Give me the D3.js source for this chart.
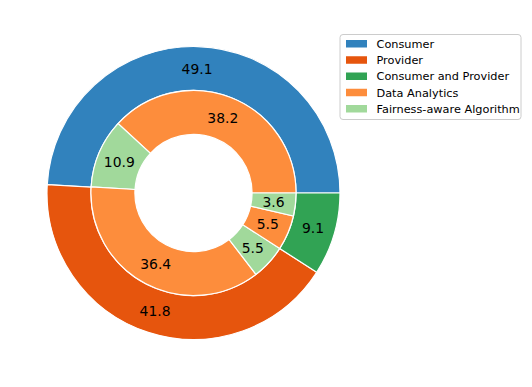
<!DOCTYPE html>
<html>
<head>
<meta charset="utf-8">
<script src="https://d3js.org/d3.v7.min.js"></script>
<style>
  body { margin: 0; background: #fff; }
  text { font-family: "DejaVu Sans", sans-serif; }
</style>
</head>
<body>
<svg id="chart" width="532" height="387"></svg>
<script>
// data
var outerLabels = ["Consumer", "Provider", "Consumer and Provider"];
var outerValues = [49.1, 41.8, 9.1];
var innerLabels = ["Data Analytics", "Fairness-aware Algorithm", "Data Analytics",
                   "Fairness-aware Algorithm", "Data Analytics", "Fairness-aware Algorithm"];
var innerValues = [38.2, 10.9, 36.4, 5.5, 5.5, 3.6];
var legendLabels = ["Consumer", "Provider", "Consumer and Provider", "Data Analytics", "Fairness-aware Algorithm"];
var legendColors = ["#3182bd", "#e6550d", "#31a354", "#fd8d3c", "#a1d99b"];

var color = d3.scaleOrdinal().domain(legendLabels).range(legendColors);

var svg = d3.select("#chart");
var cx = 193.5, cy = 193, R = 146.5;

var g = svg.append("g").attr("transform", "translate(" + cx + "," + cy + ")");

// matplotlib style: start at 3 o'clock, go counterclockwise
var pie = d3.pie().sort(null).startAngle(Math.PI / 2).endAngle(Math.PI / 2 - 2 * Math.PI);

function ring(values, labels, r0, r1) {
    var arc = d3.arc().innerRadius(r0).outerRadius(r1);
    var arcs = pie(values);
    var grp = g.append("g");
    grp.selectAll("path")
        .data(arcs)
        .enter()
        .append("path")
        .attr("d", arc)
        .attr("fill", function(d, i) { return color(labels[i]); })
        .attr("stroke", "#fff")
        .attr("stroke-width", 1.2);
    grp.selectAll("text")
        .data(arcs)
        .enter()
        .append("text")
        .attr("transform", function(d) { return "translate(" + arc.centroid(d) + ")"; })
        .attr("text-anchor", "middle")
        .attr("dy", "0.36em")
        .style("font-size", "13.9px")
        .style("fill", "#000")
        .text(function(d) { return d3.format(".1f")(d.data); });
}

ring(outerValues, outerLabels, R * 0.7, R);
ring(innerValues, innerLabels, R * 0.4, R * 0.7);

// legend
var leg = svg.append("g").attr("transform", "translate(340,34.5)");
leg.append("rect")
    .attr("width", 181)
    .attr("height", 85)
    .attr("rx", 3)
    .attr("fill", "#fff")
    .attr("fill-opacity", 0.8)
    .attr("stroke", "#cccccc")
    .attr("stroke-width", 1);

var items = leg.selectAll("g.item")
    .data(legendLabels)
    .enter()
    .append("g")
    .attr("class", "item")
    .attr("transform", function(d, i) { return "translate(0," + (5.5 + i * 16.25) + ")"; });

items.append("rect")
    .attr("x", 6)
    .attr("y", 0)
    .attr("width", 21)
    .attr("height", 7.5)
    .attr("fill", function(d) { return color(d); });

items.append("text")
    .attr("x", 36.5)
    .attr("y", 3.8)
    .attr("dy", "0.36em")
    .style("font-size", "11.3px")
    .style("fill", "#000")
    .text(function(d) { return d; });
</script>
</body>
</html>
